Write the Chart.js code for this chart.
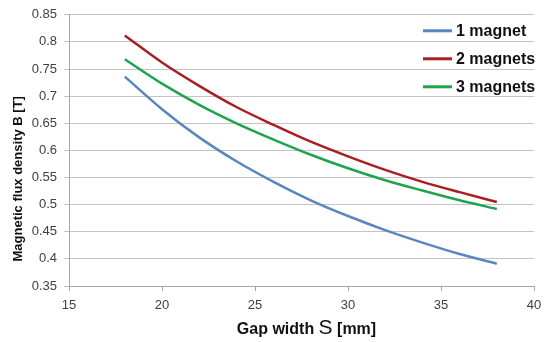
<!DOCTYPE html>
<html>
<head>
<meta charset="utf-8">
<script src="https://cdn.jsdelivr.net/npm/chart.js@4/dist/chart.umd.min.js"></script>
<style>
  html, body { margin: 0; padding: 0; background: #fff; }
  #wrap { width: 550px; height: 342px; }
</style>
</head>
<body>
<div id="wrap"><canvas id="magChart" width="550" height="342"></canvas></div>
<script>
// gap width S [mm]
const gapWidth = [18, 20, 22, 24, 26, 28, 30, 32, 34, 36, 38];
// flux density B [T]
const oneMagnet = [0.736, 0.676, 0.624, 0.580, 0.542, 0.508, 0.479, 0.453, 0.430, 0.409, 0.391];
const twoMagnets = [0.812, 0.762, 0.719, 0.680, 0.647, 0.616, 0.589, 0.564, 0.542, 0.523, 0.505];
const threeMagnets = [0.768, 0.723, 0.684, 0.650, 0.620, 0.592, 0.567, 0.545, 0.526, 0.508, 0.492];
const seriesNames = ['1 magnet', '2 magnets', '3 magnets'];
const seriesColors = ['#5A86BF', '#A81E22', '#1FA44E'];

function toPoints(ys) {
    return gapWidth.map((x, i) => ({ x: x, y: ys[i] }));
}

const fontName = '"Liberation Sans", Arial, sans-serif';

// axis titles and legend drawn on top
const overlay = {
    id: 'overlay',
    afterDraw(chart) {
        const ctx = chart.ctx;
        const area = chart.chartArea;
        ctx.save();
        ctx.fillStyle = '#111';

        // y title
        ctx.save();
        ctx.translate(18, area.top + 164);
        ctx.rotate(-Math.PI / 2);
        ctx.font = 'bold 13px ' + fontName;
        ctx.textAlign = 'center';
        ctx.textBaseline = 'middle';
        ctx.fillText('Magnetic flux density B [T]', 0, 0);
        ctx.restore();

        // x title with a larger plain S
        const parts = [
            ['Gap width ', 'bold 16px ' + fontName],
            ['S', '21px ' + fontName],
            [' [mm]', 'bold 16px ' + fontName]
        ];
        let total = 0;
        parts.forEach(p => { ctx.font = p[1]; total += ctx.measureText(p[0]).width; });
        let x = (area.left + area.right) / 2 + 5 - total / 2;
        ctx.textBaseline = 'alphabetic';
        ctx.textAlign = 'left';
        parts.forEach(p => {
            ctx.font = p[1];
            ctx.fillText(p[0], x, 334);
            x += ctx.measureText(p[0]).width;
        });

        // legend
        ctx.font = 'bold 16px ' + fontName;
        ctx.textBaseline = 'middle';
        chart.data.datasets.forEach((ds, i) => {
            const y = area.top + 16 + i * 28;
            ctx.strokeStyle = ds.borderColor;
            ctx.lineWidth = 3;
            ctx.beginPath();
            ctx.moveTo(423, y);
            ctx.lineTo(452, y);
            ctx.stroke();
            ctx.fillStyle = '#111';
            ctx.fillText(ds.label, 456, y + 1);
        });
        ctx.restore();
    }
};

new Chart(document.getElementById('magChart'), {
    type: 'scatter',
    data: {
        datasets: [oneMagnet, twoMagnets, threeMagnets].map((ys, i) => ({
            label: seriesNames[i],
            data: toPoints(ys),
            showLine: true,
            borderColor: seriesColors[i],
            backgroundColor: seriesColors[i],
            borderWidth: 2.5,
            pointRadius: 0,
            tension: 0.4,
            cubicInterpolationMode: 'monotone'
        }))
    },
    options: {
        responsive: false,
        animation: false,
        layout: { padding: { top: 14, right: 16, left: 0, bottom: 0 } },
        scales: {
            x: {
                type: 'linear',
                min: 15,
                max: 40,
                ticks: {
                    stepSize: 5,
                    padding: 7,
                    color: '#404040',
                    font: { family: fontName, size: 13 }
                },
                grid: {
                    drawOnChartArea: false,
                    drawTicks: true,
                    tickLength: 5,
                    color: '#A6A6A6'
                },
                border: { color: '#A6A6A6' },
                afterFit(scale) { scale.height = 56; }
            },
            y: {
                min: 0.35,
                max: 0.85,
                ticks: {
                    stepSize: 0.05,
                    padding: 7,
                    color: '#404040',
                    font: { family: fontName, size: 13 },
                    callback: v => String(Number(v.toFixed(2)))
                },
                grid: {
                    color: '#C4C4C4',
                    tickLength: 5
                },
                border: { color: '#A6A6A6' },
                afterFit(scale) { scale.width = 69; }
            }
        },
        plugins: {
            legend: { display: false },
            tooltip: { enabled: false }
        }
    },
    plugins: [overlay]
});
</script>
</body>
</html>
